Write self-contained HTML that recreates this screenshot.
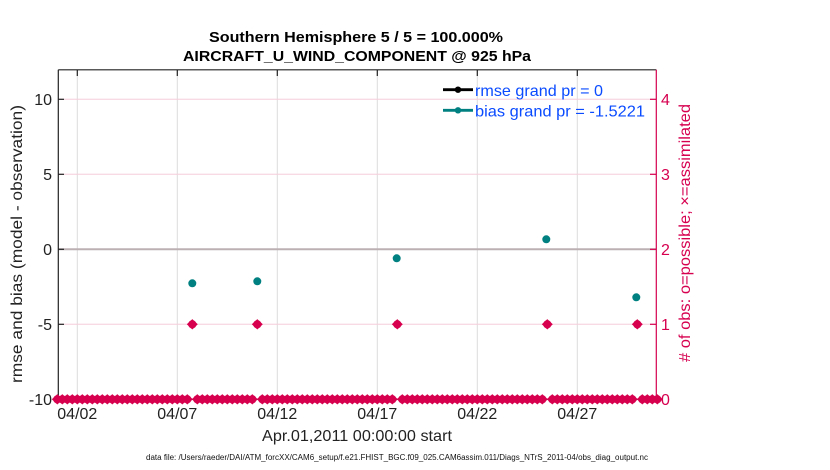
<!DOCTYPE html>
<html><head><meta charset="utf-8"><style>
html,body{margin:0;padding:0;background:#fff;}
svg{display:block;}
text{font-family:"Liberation Sans",Arial,sans-serif;}
</style></head><body>
<svg width="830" height="470" viewBox="0 0 830 470" xmlns="http://www.w3.org/2000/svg">
<rect width="830" height="470" fill="#fff"/>
<!-- title -->
<text x="356" y="42" font-size="14.5" font-weight="bold" text-anchor="middle" textLength="294" lengthAdjust="spacingAndGlyphs" fill="#000">Southern Hemisphere 5 / 5 = 100.000%</text>
<text x="357" y="61" font-size="14.5" font-weight="bold" text-anchor="middle" textLength="348" lengthAdjust="spacingAndGlyphs" fill="#000">AIRCRAFT_U_WIND_COMPONENT @ 925 hPa</text>
<!-- vertical grid -->
<g stroke="#dcdcdc" stroke-width="1">
<line x1="77.3" y1="70" x2="77.3" y2="399"/>
<line x1="177.3" y1="70" x2="177.3" y2="399"/>
<line x1="277.3" y1="70" x2="277.3" y2="399"/>
<line x1="377.3" y1="70" x2="377.3" y2="399"/>
<line x1="477.3" y1="70" x2="477.3" y2="399"/>
<line x1="577.3" y1="70" x2="577.3" y2="399"/>
</g>
<!-- pink grid -->
<g stroke="#f6cddb" stroke-width="1">
<line x1="58.3" y1="99.3" x2="656.3" y2="99.3"/>
<line x1="58.3" y1="174.3" x2="656.3" y2="174.3"/>
<line x1="58.3" y1="249.3" x2="656.3" y2="249.3"/>
<line x1="58.3" y1="324.3" x2="656.3" y2="324.3"/>
</g>
<!-- zero line -->
<line x1="58.3" y1="249.3" x2="656.3" y2="249.3" stroke="#bcb0b3" stroke-width="2"/>
<!-- axes -->
<line x1="58.3" y1="69.8" x2="656.3" y2="69.8" stroke="#222" stroke-width="1.2"/>
<line x1="58.3" y1="69.8" x2="58.3" y2="399.3" stroke="#222" stroke-width="1.2"/>
<line x1="58.3" y1="399.3" x2="656.3" y2="399.3" stroke="#222" stroke-width="1.2"/>
<line x1="656.3" y1="69.8" x2="656.3" y2="399.3" stroke="#d6004f" stroke-width="1.2"/>
<!-- ticks -->
<g stroke="#222" stroke-width="1.2">
<line x1="77.3" y1="70" x2="77.3" y2="76"/><line x1="177.3" y1="70" x2="177.3" y2="76"/>
<line x1="277.3" y1="70" x2="277.3" y2="76"/><line x1="377.3" y1="70" x2="377.3" y2="76"/>
<line x1="477.3" y1="70" x2="477.3" y2="76"/><line x1="577.3" y1="70" x2="577.3" y2="76"/>
<line x1="58.3" y1="99.3" x2="64" y2="99.3"/><line x1="58.3" y1="174.3" x2="64" y2="174.3"/>
<line x1="58.3" y1="249.3" x2="64" y2="249.3"/><line x1="58.3" y1="324.3" x2="64" y2="324.3"/>
</g>
<g stroke="#d6004f" stroke-width="1.2">
<line x1="650" y1="99.3" x2="656.3" y2="99.3"/><line x1="650" y1="174.3" x2="656.3" y2="174.3"/>
<line x1="650" y1="249.3" x2="656.3" y2="249.3"/><line x1="650" y1="324.3" x2="656.3" y2="324.3"/>
</g>
<!-- left tick labels -->
<g font-size="16" fill="#222" text-anchor="end">
<text x="52" y="105">10</text>
<text x="52" y="180">5</text>
<text x="52" y="255">0</text>
<text x="52" y="330">-5</text>
<text x="52" y="405">-10</text>
</g>
<!-- right tick labels -->
<g font-size="16" fill="#d6004f">
<text x="661" y="105">4</text>
<text x="661" y="180">3</text>
<text x="661" y="255">2</text>
<text x="661" y="330">1</text>
<text x="661" y="405">0</text>
</g>
<!-- x tick labels -->
<g font-size="16" fill="#222" text-anchor="middle">
<text x="77.3" y="419">04/02</text>
<text x="177.3" y="419">04/07</text>
<text x="277.3" y="419">04/12</text>
<text x="377.3" y="419">04/17</text>
<text x="477.3" y="419">04/22</text>
<text x="577.3" y="419">04/27</text>
</g>
<text x="357" y="441" font-size="16" fill="#222" text-anchor="middle" textLength="190" lengthAdjust="spacingAndGlyphs">Apr.01,2011 00:00:00 start</text>
<text x="397" y="460" font-size="8" fill="#111" text-anchor="middle" textLength="502" lengthAdjust="spacingAndGlyphs">data file: /Users/raeder/DAI/ATM_forcXX/CAM6_setup/f.e21.FHIST_BGC.f09_025.CAM6assim.011/Diags_NTrS_2011-04/obs_diag_output.nc</text>
<!-- y labels -->
<text transform="translate(22,244) rotate(-90)" font-size="16" fill="#222" text-anchor="middle" textLength="278" lengthAdjust="spacingAndGlyphs">rmse and bias (model - observation)</text>
<text transform="translate(690,233) rotate(-90)" font-size="16" fill="#d6004f" text-anchor="middle" textLength="258" lengthAdjust="spacingAndGlyphs"># of obs: o=possible; ×=assimilated</text>
<!-- obs count markers -->
<g id="marks" fill="#d6004f"></g>
<!-- bias points -->
<g fill="#008080">
<circle cx="192.3" cy="283.3" r="4"/>
<circle cx="257.3" cy="281.3" r="4"/>
<circle cx="396.7" cy="258.3" r="4"/>
<circle cx="546.3" cy="239.3" r="4"/>
<circle cx="636.3" cy="297.3" r="4"/>
</g>
<!-- legend -->
<line x1="443" y1="89.7" x2="473" y2="89.7" stroke="#000" stroke-width="2.8"/>
<circle cx="458" cy="89.7" r="3.2" fill="#000"/>
<line x1="443" y1="110.3" x2="473" y2="110.3" stroke="#008080" stroke-width="2.8"/>
<circle cx="458" cy="110.3" r="3.2" fill="#008080"/>
<text x="475" y="96" font-size="16" fill="#0a4bff" textLength="128" lengthAdjust="spacingAndGlyphs">rmse grand pr = 0</text>
<text x="475" y="116.5" font-size="16" fill="#0a4bff" textLength="170" lengthAdjust="spacingAndGlyphs">bias grand pr = -1.5221</text>
</svg>
<script>
(function(){
  var g=document.getElementById('marks');
  var ns='http://www.w3.org/2000/svg';
  var ones={27:1,40:1,68:1,98:1,116:1};
  for(var k=0;k<=120;k++){
    var x=57.3+5*k;
    var y=ones[k]?324.3:399.3;
    var p=document.createElementNS(ns,'path');
    p.setAttribute('d','M'+(x-5.5)+','+y+'L'+x+','+(y-5.2)+'L'+(x+5.5)+','+y+'L'+x+','+(y+5.2)+'Z');
    g.appendChild(p);
    var c=document.createElementNS(ns,'circle');
    c.setAttribute('cx',x);c.setAttribute('cy',y);c.setAttribute('r',4.1);
    g.appendChild(c);
  }
})();
</script>
</body></html>
